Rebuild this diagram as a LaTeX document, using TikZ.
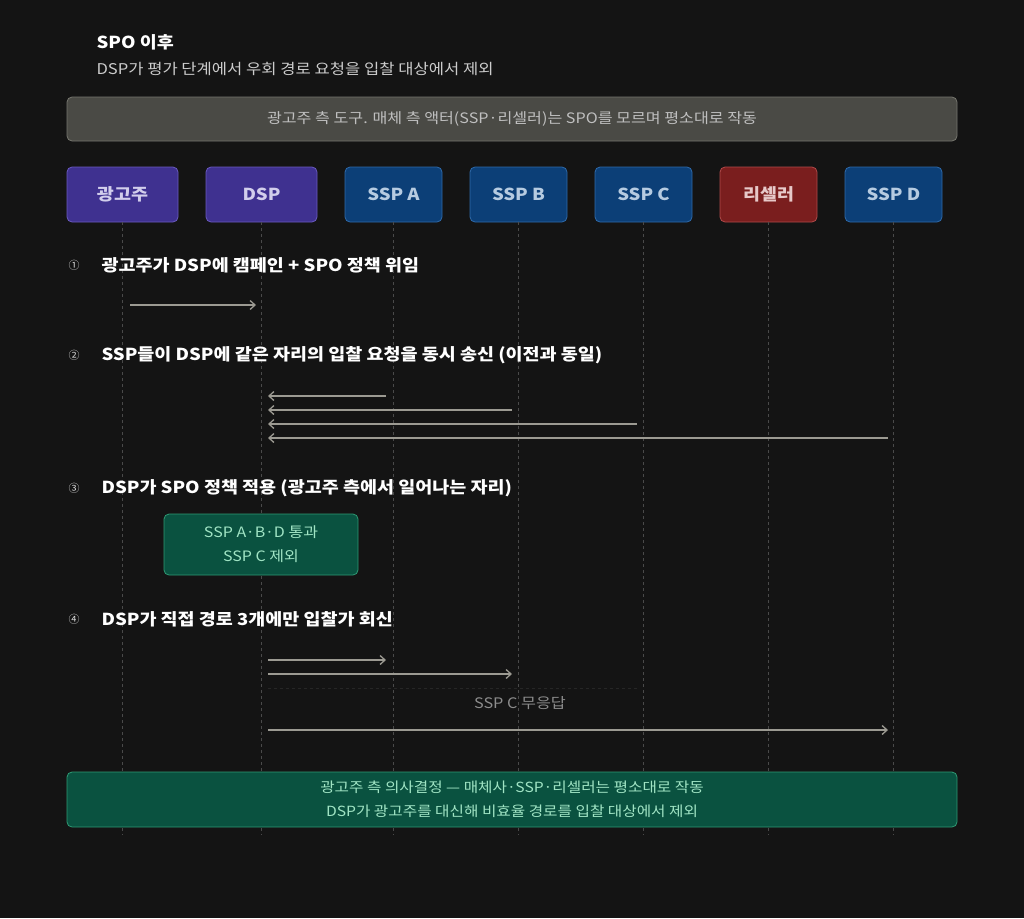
\documentclass[tikz,border=0pt]{standalone}
\usepackage{fontspec}
\setmainfont{Noto Sans CJK KR}[FakeStretch=1.12]
\newfontfamily\numfont{Noto Sans CJK KR}
\usetikzlibrary{arrows.meta}
\definecolor{bg}{HTML}{141414}
\definecolor{life}{HTML}{4A4A4A}
\definecolor{arr}{HTML}{9C9A92}
\definecolor{purp}{HTML}{3F3190}
\definecolor{purpb}{HTML}{6A5AC0}
\definecolor{blu}{HTML}{0C3F77}
\definecolor{blub}{HTML}{2F6AAA}
\definecolor{redd}{HTML}{7A1E1E}
\definecolor{reddb}{HTML}{B04A4A}
\definecolor{grn}{HTML}{0A5240}
\definecolor{grnb}{HTML}{2E9A74}
\definecolor{grnt}{HTML}{A0E4C4}
\definecolor{gry}{HTML}{4A4A45}
\definecolor{gryb}{HTML}{77776F}
\tikzset{
 actor/.style={draw, rounded corners=5pt, minimum height=55pt, font=\fontsize{16.5}{18}\selectfont\bfseries, line width=0.8pt},
 pur/.style={actor, fill=purp, draw=purpb, text=purpb!30!white, minimum width=111pt},
 bl/.style={actor, fill=blu, draw=blub, text=blub!35!white, minimum width=97pt},
 rd/.style={actor, fill=redd, draw=reddb, text=reddb!30!white, minimum width=97pt},
 lifeline/.style={draw=life, dashed, line width=0.6pt},
 msg/.style={draw=arr, line width=1.3pt, -{Straight Barb[length=5pt,width=9pt]}},
 steptxt/.style={anchor=west, text=white, font=\fontsize{16.5}{18}\selectfont\bfseries},
 stepnum/.style={text=white!85!black, font=\numfont\fontsize{11}{12}\selectfont},
 gbox/.style={draw=grnb, fill=grn, rounded corners=5pt, line width=0.8pt, text=grnt, align=center},
}
\begin{document}
\begin{tikzpicture}[x=1pt,y=-1pt]
\fill[bg] (0,0) rectangle (1024,918);
\useasboundingbox (0,0) rectangle (1024,918);
\node[anchor=west, text=white, font=\fontsize{16.5}{18}\selectfont\bfseries] (title) at (93,42) {SPO 이후};
\node[anchor=west, text=white!80!black, font=\fontsize{14.8}{16}\selectfont] (sub) at (93,69) {DSP가 평가 단계에서 우회 경로 요청을 입찰 대상에서 제외};
\node[draw=gryb, fill=gry, rounded corners=5pt, line width=0.8pt, minimum width=890pt, minimum height=44pt, text=white!75!black, font=\fontsize{14.4}{16}\selectfont] (banner) at (512,119) {광고주 측 도구. 매체 측 액터(SSP·리셀러)는 SPO를 모르며 평소대로 작동};
\node[pur] (adv) at (122.5,194.5) {광고주};
\node[pur] (dsp) at (261.5,194.5) {DSP};
\node[bl] (sa) at (393.5,194.5) {SSP A};
\node[bl] (sb) at (518.5,194.5) {SSP B};
\node[bl] (sc) at (643.5,194.5) {SSP C};
\node[rd] (rs) at (768.5,194.5) {리셀러};
\node[bl] (sd) at (893.5,194.5) {SSP D};
\foreach \n in {adv,dsp,sa,sb,sc,rs,sd}{
 \coordinate (\n-end) at ([yshift=-613pt]\n.south);
 \path[lifeline] (\n.south) -- (\n-end);
}
% steps
\node[stepnum] (n1) at (74,265) {①};
\node[steptxt] (s1) at (98,265) {광고주가 DSP에 캠페인 + SPO 정책 위임};
\node[stepnum] (n2) at (74,355) {②};
\node[steptxt] (s2) at (98,355) {SSP들이 DSP에 같은 자리의 입찰 요청을 동시 송신 (이전과 동일)};
\node[stepnum] (n3) at (74,488) {③};
\node[steptxt] (s3) at (98,488) {DSP가 SPO 정책 적용 (광고주 측에서 일어나는 자리)};
\node[stepnum] (n4) at (74,619) {④};
\node[steptxt] (s4) at (98,619) {DSP가 직접 경로 3개에만 입찰가 회신};
% step 1
\coordinate (a1) at (130,305); \coordinate (b1) at (256,305);
\draw[msg] (a1) -- (b1);
% step 2
\foreach \n/\x/\y in {sa/386/396, sb/512/410, sc/637/424, sd/888/438}{
 \coordinate (f\n) at (\x,\y); \coordinate (t\n) at (268,\y);
 \draw[msg] (f\n) -- (t\n);
}
% step 3
\node[gbox, minimum width=194pt, minimum height=61pt, font=\fontsize{14.3}{24}\selectfont] (pol) at (261,544.5) {SSP A·B·D 통과\\SSP C 제외};
% step 4
\foreach \n/\x/\y in {sa/386/660, sb/512/674, sd/888/730}{
 \coordinate (g\n) at (268,\y); \coordinate (h\n) at (\x,\y);
 \draw[msg] (g\n) -- (h\n);
}
\coordinate (gc) at (268,688); \coordinate (hc) at (637,688);
\draw[draw=life!120, dashed, line width=0.8pt] (gc) -- (hc);
\node[text=white!55!black, font=\fontsize{14.5}{16}\selectfont] (nr) at (520,703) {SSP C 무응답};
% bottom
\node[gbox, minimum width=890pt, minimum height=55pt, font=\fontsize{14}{24}\selectfont] (bot) at (512,799.5) {광고주 측 의사결정 — 매체사·SSP·리셀러는 평소대로 작동\\DSP가 광고주를 대신해 비효율 경로를 입찰 대상에서 제외};
\end{tikzpicture}
\end{document}
